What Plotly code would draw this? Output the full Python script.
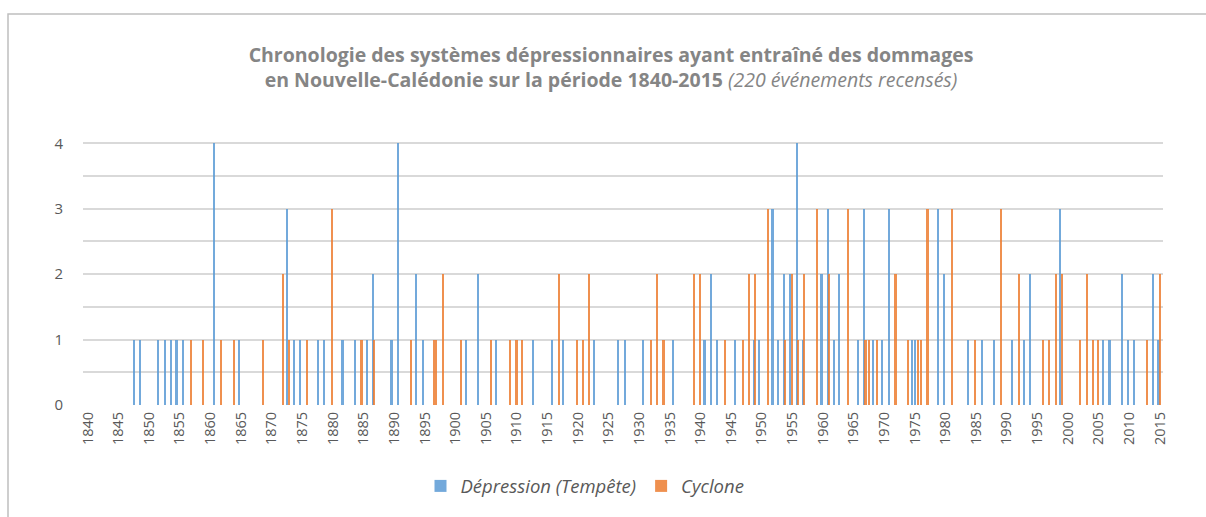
import plotly.graph_objects as go

# Dépression (Tempête) events: position (year) and value
dep_years = [1847.5, 1848.6, 1851.5, 1852.6, 1853.6, 1854.5, 1855.5, 1860.6, 1864.7, 1872.5,
             1873.7, 1874.7, 1877.6, 1878.6, 1881.6, 1883.6, 1885.6, 1886.6, 1889.6, 1890.6,
             1893.6, 1894.7, 1901.7, 1903.7, 1906.7, 1912.7, 1915.8, 1917.6, 1922.7, 1926.6,
             1927.7, 1930.6, 1935.6, 1940.7, 1941.7, 1942.8, 1945.7, 1948.8, 1949.6, 1951.8,
             1952.7, 1953.7, 1954.7, 1955.8, 1956.7, 1959.8, 1960.9, 1961.8, 1962.7, 1965.8,
             1966.7, 1968.2, 1969.7, 1970.8, 1974.6, 1975.0, 1978.8, 1979.8, 1983.7, 1986.0,
             1987.9, 1990.9, 1992.8, 1993.9, 1998.8, 2005.7, 2006.8, 2008.8, 2009.8, 2010.8,
             2013.9, 2014.8]
dep_vals = [1, 1, 1, 1, 1, 1, 1, 4, 1, 3,
            1, 1, 1, 1, 1, 1, 1, 2, 1, 4,
            2, 1, 1, 2, 1, 1, 1, 1, 1, 1,
            1, 1, 1, 1, 2, 1, 1, 1, 1, 3,
            1, 2, 2, 4, 1, 2, 3, 1, 2, 1,
            3, 1, 1, 3, 1, 1, 3, 2, 1, 1,
            1, 1, 1, 2, 3, 1, 1, 2, 1, 1,
            2, 1]

# Cyclone events
cyc_years = [1856.8, 1858.8, 1861.8, 1863.9, 1868.6, 1871.9, 1872.9, 1875.8, 1879.9, 1884.7,
             1886.8, 1892.8, 1896.6, 1896.9, 1898.0, 1901.0, 1905.9, 1909.0, 1910.0, 1910.9,
             1916.9, 1919.9, 1920.9, 1921.9, 1932.0, 1933.0, 1934.0, 1939.0, 1939.9, 1944.0,
             1947.0, 1948.0, 1948.9, 1951.0, 1953.9, 1955.0, 1956.0, 1956.9, 1959.1, 1961.0,
             1964.1, 1966.9, 1967.0, 1967.6, 1968.9, 1971.8, 1972.0, 1973.9, 1975.6, 1976.1,
             1977.1, 1981.1, 1984.9, 1989.1, 1992.0, 1996.0, 1997.0, 1998.0, 1999.0, 2002.0,
             2003.1, 2004.1, 2005.0, 2012.9, 2015.1]
cyc_vals = [1, 1, 1, 1, 1, 2, 1, 1, 3, 1,
            1, 1, 1, 1, 2, 1, 1, 1, 1, 1,
            2, 1, 1, 2, 1, 2, 1, 2, 2, 1,
            1, 2, 2, 3, 1, 2, 1, 2, 3, 2,
            3, 1, 1, 1, 1, 2, 2, 1, 1, 1,
            3, 3, 1, 3, 2, 1, 1, 2, 2, 1,
            2, 1, 1, 1, 2]

tick_years = list(range(1840, 2016, 5))
y_ticks = [0, 1, 2, 3, 4]

BLUE = "#5B9BD5"
ORANGE = "#ED7D31"
TXT = "#595959"
GRID = "#D9D9D9"

fig = go.Figure()
fig.add_trace(go.Bar(x=dep_years, y=dep_vals, width=0.26, name="Dépression (Tempête)",
                     marker=dict(color=BLUE, line=dict(width=0)), opacity=0.85))
fig.add_trace(go.Bar(x=cyc_years, y=cyc_vals, width=0.26, name="Cyclone",
                     marker=dict(color=ORANGE, line=dict(width=0)), opacity=0.85))

W, H = 1206, 517
L, R, T, B = 83, 43, 142, 110
pw = W - L - R
ph = H - T - B

fig.update_layout(
    width=W, height=H,
    margin=dict(l=L, r=R, t=T, b=B),
    paper_bgcolor="white", plot_bgcolor="white",
    barmode="overlay", bargap=0,
    font=dict(family="Open Sans", color=TXT, size=13),
    title=dict(
        text="<b>Chronologie des systèmes dépressionnaires ayant entraîné des dommages<br>"
             "en Nouvelle-Calédonie sur la période 1840-2015</b> <i>(220 événements recensés)</i>",
        x=611 / W, xanchor="center", y=1 - 62 / H, yanchor="middle",
        font=dict(family="Open Sans", size=19.5, color="#858585"),
    ),
    xaxis=dict(
        range=[1839.2, 2015.5], tickmode="array", tickvals=tick_years,
        ticktext=[str(y) for y in tick_years], tickangle=-90,
        showgrid=False, zeroline=False, showline=False, ticks="",
        ticklabelstandoff=3,
        tickfont=dict(size=14.5, color=TXT),
    ),
    yaxis=dict(
        range=[0, 4.02], tickmode="array", tickvals=y_ticks,
        showgrid=True, gridcolor=GRID, gridwidth=1.6, zeroline=False,
        ticks="", ticklabelstandoff=19,
        minor=dict(dtick=0.5, showgrid=True, gridcolor=GRID, gridwidth=1.6),
        tickfont=dict(size=15, color=TXT),
    ),
    legend=dict(
        orientation="h", x=(585 - L) / pw, xanchor="center",
        y=-(489 - (T + ph)) / ph, yanchor="middle",
        font=dict(size=18.5, color=TXT, style="italic"),
        itemwidth=30, traceorder="normal",
    ),
    shapes=[dict(type="rect", xref="paper", yref="paper",
                 x0=(8 - L) / pw, x1=(W + 10 - L) / pw,
                 y0=-(H + 10 - (T + ph)) / ph, y1=1 + (T - 13) / ph,
                 line=dict(color="#BFBFBF", width=1.5), layer="below")],
)

fig.write_html("out.html", config={"displayModeBar": False},
               post_script="document.body.style.margin='0px';document.body.style.overflow='hidden';")
